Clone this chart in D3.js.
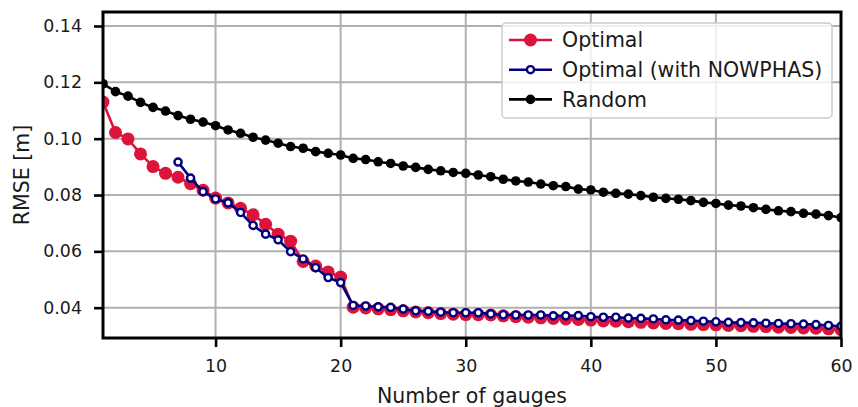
<!DOCTYPE html>
<html>
<head>
<meta charset="utf-8">
<script src="https://cdn.jsdelivr.net/npm/d3@7"></script>
<style>
  body { margin: 0; background: #fff; }
  svg { font-family: "DejaVu Sans", sans-serif; }
</style>
</head>
<body>
<div id="chart"></div>
<script>
// number of gauges (x)
const gauges = [1,2,3,4,5,6,7,8,9,10,11,12,13,14,15,16,17,18,19,20,
  21,22,23,24,25,26,27,28,29,30,31,32,33,34,35,36,37,38,39,40,
  41,42,43,44,45,46,47,48,49,50,51,52,53,54,55,56,57,58,59,60];
const nowphasGauges = [7,8,9,10,11,12,13,14,15,16,17,18,19,20,
  21,22,23,24,25,26,27,28,29,30,31,32,33,34,35,36,37,38,39,40,
  41,42,43,44,45,46,47,48,49,50,51,52,53,54,55,56,57,58,59,60];

const optimal = [0.1130,0.1022,0.0999,0.0946,0.0901,0.0877,0.0863,0.0840,0.0817,0.0789,
  0.0772,0.0753,0.0730,0.0696,0.0661,0.0636,0.0564,0.0548,0.0527,0.0509,
  0.0402,0.0399,0.0396,0.0393,0.0389,0.0385,0.0382,0.0379,0.0377,0.0375,
  0.0375,0.0374,0.0371,0.0368,0.0366,0.0364,0.0362,0.0360,0.0358,0.0356,
  0.0353,0.0352,0.0350,0.0348,0.0346,0.0344,0.0343,0.0341,0.0340,0.0339,
  0.0337,0.0336,0.0334,0.0333,0.0331,0.0330,0.0328,0.0327,0.0325,0.0322];

const optimalNowphas = [0.0917,0.0860,0.0812,0.0786,0.0772,0.0738,0.0692,0.0661,0.0641,0.0599,
  0.0573,0.0542,0.0507,0.0489,
  0.0408,0.0406,0.0403,0.0401,0.0395,0.0389,0.0387,0.0384,0.0382,0.0382,
  0.0382,0.0378,0.0375,0.0374,0.0374,0.0374,0.0371,0.0371,0.0372,0.0368,
  0.0366,0.0366,0.0363,0.0362,0.0360,0.0357,0.0356,0.0354,0.0352,0.0350,
  0.0348,0.0347,0.0346,0.0345,0.0344,0.0343,0.0342,0.0340,0.0337,0.0334];

const random = [0.1195,0.1167,0.1151,0.1129,0.1111,0.1098,0.1082,0.1069,0.1059,0.1046,
  0.1031,0.1019,0.1005,0.0995,0.0984,0.0972,0.0966,0.0954,0.0948,0.0942,
  0.0930,0.0926,0.0918,0.0912,0.0903,0.0898,0.0891,0.0886,0.0880,0.0877,
  0.0871,0.0865,0.0856,0.0850,0.0846,0.0839,0.0833,0.0830,0.0821,0.0818,
  0.0810,0.0806,0.0803,0.0798,0.0792,0.0788,0.0785,0.0780,0.0774,0.0770,
  0.0764,0.0761,0.0755,0.0749,0.0744,0.0741,0.0735,0.0732,0.0727,0.0720];

const xTicks = [10, 20, 30, 40, 50, 60];
const yTicks = [0.04, 0.06, 0.08, 0.10, 0.12, 0.14];

const width = 858, height = 407;
const margin = { top: 12, right: 17, bottom: 69, left: 103 };
const innerW = width - margin.left - margin.right;
const innerH = height - margin.top - margin.bottom;

const x = d3.scaleLinear().domain([1, 60]).range([0, innerW]);
const y = d3.scaleLinear().domain([0.02924, 0.14497]).range([innerH, 0]);

const svg = d3.select("#chart").append("svg")
  .attr("width", width)
  .attr("height", height);

svg.append("defs").append("clipPath")
  .attr("id", "plot-clip")
  .append("rect")
  .attr("width", innerW)
  .attr("height", innerH);

const g = svg.append("g")
  .attr("transform", `translate(${margin.left},${margin.top})`);

// grid
g.append("g")
  .selectAll("line.vgrid")
  .data(xTicks)
  .join("line")
  .attr("x1", d => x(d)).attr("x2", d => x(d))
  .attr("y1", 0).attr("y2", innerH)
  .attr("stroke", "#b0b0b0").attr("stroke-width", 2);

g.append("g")
  .selectAll("line.hgrid")
  .data(yTicks)
  .join("line")
  .attr("x1", 0).attr("x2", innerW)
  .attr("y1", d => y(d)).attr("y2", d => y(d))
  .attr("stroke", "#b0b0b0").attr("stroke-width", 2);

const series = [
  { name: "Optimal", xs: gauges, ys: optimal, color: "#dc143c", r: 6.5, fill: "#dc143c", sw: 0 },
  { name: "Optimal (with NOWPHAS)", xs: nowphasGauges, ys: optimalNowphas, color: "#000080", r: 3.6, fill: "#fff", sw: 2.4 },
  { name: "Random", xs: gauges, ys: random, color: "#000", r: 4.8, fill: "#000", sw: 0 }
];

const line = d3.line().x(d => x(d[0])).y(d => y(d[1]));

const plot = g.append("g").attr("clip-path", "url(#plot-clip)");

series.forEach(s => {
  const pts = s.xs.map((v, i) => [v, s.ys[i]]);
  const sg = plot.append("g");
  sg.append("path")
    .datum(pts)
    .attr("d", line)
    .attr("fill", "none")
    .attr("stroke", s.color)
    .attr("stroke-width", 2.6);
  sg.selectAll("circle")
    .data(pts)
    .join("circle")
    .attr("cx", d => x(d[0]))
    .attr("cy", d => y(d[1]))
    .attr("r", s.r)
    .attr("fill", s.fill)
    .attr("stroke", s.color)
    .attr("stroke-width", s.sw);
});

// axes
const xAxis = g.append("g")
  .attr("transform", `translate(0,${innerH})`)
  .call(d3.axisBottom(x).tickValues(xTicks).tickSize(9).tickPadding(13).tickFormat(d3.format("d")));
const yAxis = g.append("g")
  .call(d3.axisLeft(y).tickValues(yTicks).tickSize(9).tickPadding(12).tickFormat(d3.format(".2f")));

[xAxis, yAxis].forEach(a => {
  a.select(".domain").remove();
  a.selectAll(".tick line").attr("stroke", "#000").attr("stroke-width", 2.6);
  a.selectAll(".tick text")
    .attr("fill", "#1a1a1a")
    .style("font-family", "DejaVu Sans")
    .style("font-size", "17.4px");
});

// frame
g.append("rect")
  .attr("width", innerW)
  .attr("height", innerH)
  .attr("fill", "none")
  .attr("stroke", "#000")
  .attr("stroke-width", 3);

// axis labels
svg.append("text")
  .attr("x", margin.left + innerW / 2)
  .attr("y", 403)
  .attr("text-anchor", "middle")
  .style("font-size", "20.5px")
  .attr("fill", "#1a1a1a")
  .text("Number of gauges");

svg.append("text")
  .attr("transform", `translate(29,${margin.top + innerH / 2}) rotate(-90)`)
  .attr("text-anchor", "middle")
  .style("font-size", "20.5px")
  .attr("fill", "#1a1a1a")
  .text("RMSE [m]");

// legend
const legend = svg.append("g").attr("transform", "translate(502,23)");
legend.append("rect")
  .attr("width", 330)
  .attr("height", 95)
  .attr("rx", 4)
  .attr("fill", "rgba(255,255,255,0.8)")
  .attr("stroke", "#cccccc")
  .attr("stroke-width", 1.5);

series.forEach((s, i) => {
  const row = legend.append("g").attr("transform", `translate(0,${17 + i * 29.7})`);
  row.append("line")
    .attr("x1", 7).attr("x2", 50)
    .attr("stroke", s.color).attr("stroke-width", 2.6);
  row.append("circle")
    .attr("cx", 28.5).attr("r", s.r)
    .attr("fill", s.fill).attr("stroke", s.color).attr("stroke-width", s.sw);
  row.append("text")
    .attr("x", 60)
    .attr("dy", "0.36em")
    .style("font-size", "20.5px")
    .attr("fill", "#1a1a1a")
    .text(s.name);
});
</script>
</body>
</html>
